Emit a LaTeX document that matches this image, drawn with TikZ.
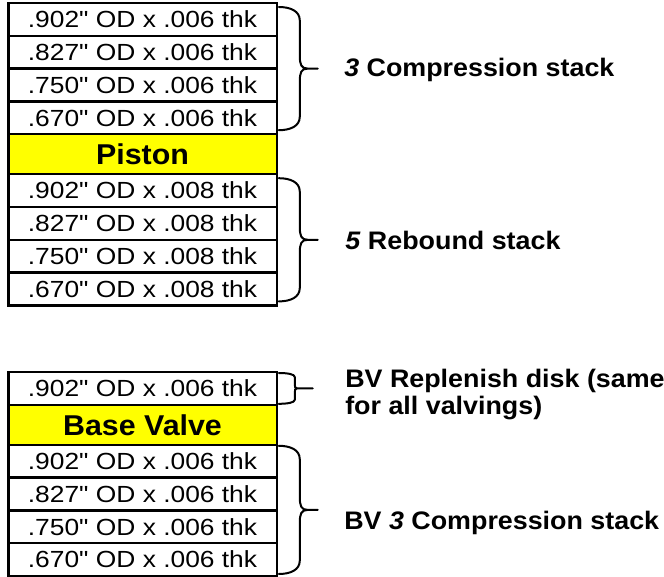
\documentclass[tikz,border=0pt]{standalone}
\usepackage{fontspec}
\setmainfont{Liberation Sans}[FakeStretch=1.06]
\newfontfamily\disktext{Liberation Sans}[FakeStretch=1.13]
\usetikzlibrary{calc,positioning}

\definecolor{valveyellow}{RGB}{255,255,0}

\tikzset{
  disk/.style={draw, line width=1.9pt, fill=white, minimum width=201.4pt, minimum height=24.6pt,
    inner sep=0pt, outer sep=0pt, font=\disktext\fontsize{17.5}{20}\selectfont},
  valvebody/.style={disk, fill=valveyellow, minimum height=30pt, font=\bfseries\fontsize{21.5}{24}\selectfont},
  stacklabel/.style={inner sep=0pt, align=left, font=\bfseries\fontsize{19}{20.25}\selectfont},
  brace line/.style={line width=1.5pt, line join=round, line cap=round}
}

% curly brace beside a stack: top point, bottom point, curl, width
\newcommand{\stackbrace}[4]{%
  \draw[brace line] let \p1=(#1), \p2=(#2), \n1={0.5*(\y1+\y2)} in
    (\p1) .. controls +(0.55*#4,0) and +(0,0.7*#3) .. (\x1+#4,\y1-#3)
    -- (\x1+#4,\n1+#3) .. controls +(0,-0.7*#3) and +(-0.5*#3,0) .. (\x1+#4+0.6*#3,\n1)
    -- (\x1+#4+13.5pt,\n1) -- (\x1+#4+0.6*#3,\n1)
    .. controls +(-0.5*#3,0) and +(0,0.7*#3) .. (\x1+#4,\n1-#3)
    -- (\x2+#4,\y2+#3) .. controls +(0,-0.7*#3) and +(0.55*#4,0) .. (\p2);
}

\begin{document}
\begin{tikzpicture}[x=0.75pt,y=0.75pt]
	\useasboundingbox (0,0) rectangle (664,-577);
	% piston
	\node[disk, anchor=north] (c1) at (142.5,-3) {.902" OD x .006 thk};
	\node[disk, below=0pt of c1] (c2) {.827" OD x .006 thk};
	\node[disk, below=0pt of c2] (c3) {.750" OD x .006 thk};
	\node[disk, below=0pt of c3] (c4) {.670" OD x .006 thk};
	\node[valvebody, below=0pt of c4] (piston) {Piston};
	\node[disk, below=0pt of piston] (r1) {.902" OD x .008 thk};
	\node[disk, below=0pt of r1] (r2) {.827" OD x .008 thk};
	\node[disk, below=0pt of r2] (r3) {.750" OD x .008 thk};
	\node[disk, below=0pt of r3] (r4) {.670" OD x .008 thk};
	% base valve
	\node[disk, anchor=north] (b0) at (142.5,-372) {.902" OD x .006 thk};
	\node[valvebody, below=0pt of b0] (base) {Base Valve};
	\node[disk, below=0pt of base] (q1) {.902" OD x .006 thk};
	\node[disk, below=0pt of q1] (q2) {.827" OD x .006 thk};
	\node[disk, below=0pt of q2] (q3) {.750" OD x .006 thk};
	\node[disk, below=0pt of q3] (q4) {.670" OD x .006 thk};
	% braces
	\stackbrace{$(c1.north east)+(2,-4)$}{$(c4.south east)+(2,4)$}{10pt}{15.75pt}
	\stackbrace{$(r1.north east)+(2,-4)$}{$(r4.south east)+(2,4)$}{10pt}{15.75pt}
	\stackbrace{$(b0.north east)+(2,-1)$}{$(b0.south east)+(2,1)$}{3pt}{12pt}
	\stackbrace{$(q1.north east)+(2,-1)$}{$(q4.south east)+(2,2)$}{10pt}{15.75pt}
	% labels
	\node[stacklabel, anchor=base west] (complbl) at (344,-76.5) {\textit{3} Compression stack};
	\node[stacklabel, anchor=base west] (reblbl) at (345,-250) {\textit{5} Rebound stack};
	\node[stacklabel, anchor=west] (replbl) at (345,-395) {BV Replenish disk (same\\for all valvings)};
	\node[stacklabel, anchor=base west] (bvlbl) at (344,-529) {BV \textit{3} Compression stack};
\end{tikzpicture}
\end{document}
